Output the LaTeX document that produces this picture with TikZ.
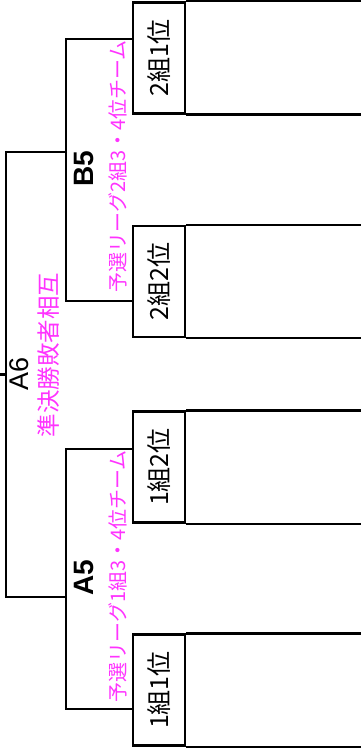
\documentclass[tikz,border=0pt]{standalone}
\usepackage{fontspec}
\setmainfont{Liberation Sans}
\newfontfamily\jpfont{Noto Sans CJK JP}
\usetikzlibrary{positioning,calc}
\definecolor{yosen}{RGB}{255,51,255}

\begin{document}
\begin{tikzpicture}[x=1pt,y=-1pt,line width=2.2pt,
	slot/.style={draw,minimum width=52pt,minimum height=111pt,inner sep=0pt,font=\jpfont\fontsize{25}{25}\selectfont},
	matchno/.style={rotate=90,inner sep=0pt,font=\fontsize{28}{28}\selectfont\bfseries},
	note/.style={rotate=90,inner sep=0pt,text=yosen,font=\jpfont\fontsize{20}{20}\selectfont}]
\useasboundingbox (0,0) rectangle (360,751);
% team slots
\foreach \y/\name/\txt in {58/g2a/2組1位, 281.5/g2b/2組2位, 467/g1b/1組2位, 690/g1a/1組1位}{
	\node[slot] (\name) at (159,\y) {\rotatebox{90}{\txt}};
	\draw (\name.north east) -- ++(200,0);
	\draw (\name.south east) -- ++(200,0);
}
% brackets
\coordinate (b5) at (67,152);
\coordinate (a5) at (67,597);
\coordinate (a6) at (6,374.5);
\draw ($(g2a.north west)!.33!(g2a.south west)$) -- ++(-66,0) |- ($(g2b.north west)!.67!(g2b.south west)$);
\draw ($(g1b.north west)!.34!(g1b.south west)$) -- ++(-66,0) |- ($(g1a.north west)!.67!(g1a.south west)$);
\draw (b5) -- ++(-61,0) |- (a5);
\draw (a6) -- ++(-8,0);
% labels
\node[matchno] (lb5) at (84,169) {B5};
\node[note] (nb5) at (118,166.5) {予選リーグ2組3・4位チーム};
\node[matchno] (la5) at (84,578) {A5};
\node[note] (na5) at (118,576.5) {予選リーグ1組3・4位チーム};
\node[matchno,font=\fontsize{27}{27}\selectfont] (la6) at (19,374) {A6};
\node[note,font=\jpfont\fontsize{23.5}{23.5}\selectfont] (na6) at (49,355) {準決勝敗者相互};
\end{tikzpicture}
\end{document}
